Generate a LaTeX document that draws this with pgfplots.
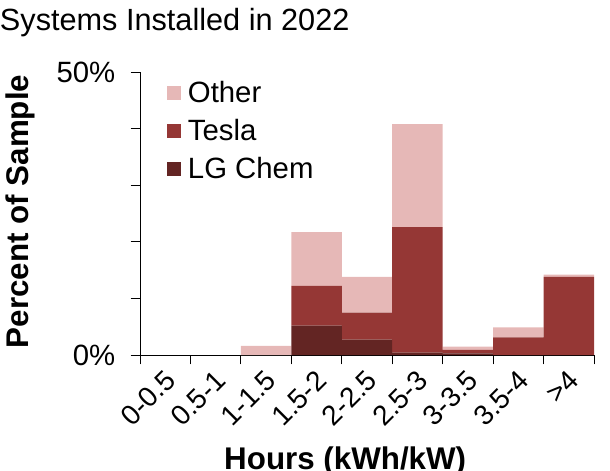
\documentclass[border=0pt]{standalone}
\usepackage{fontspec}
\setmainfont{Liberation Sans}
\usepackage{pgfplots}
\pgfplotsset{compat=1.18}
\definecolor{other}{HTML}{E6B8B7}
\definecolor{tesla}{HTML}{953735}
\definecolor{lgchem}{HTML}{632523}
\pgfplotstableread{
x lg tesla other
0.5 0 0 0
1.5 0 0 0
2.5 0 0 1.6
3.5 5.2 7.0 9.5
4.5 2.7 4.8 6.3
5.5 0.4 22.2 18.2
6.5 0.3 0.6 0.6
7.5 0 3.1 1.8
8.5 0 13.8 0.4
}\datatable
\begin{document}
\begin{tikzpicture}
\begin{axis}[
  scale only axis, width=340.5pt, height=212.25pt,
  xmin=0, xmax=9, ymin=0, ymax=50,
  ybar stacked, bar width=1,
  axis x line*=bottom, axis y line*=left,
  axis line style={black, line width=0.7pt},
  tick style={black, line width=0.7pt},
  tick align=outside, major tick length=7pt,
  xtick={0,1,...,9}, xticklabels={},
  extra x ticks={0.5,1.5,2.5,3.5,4.5,5.5,6.5,7.5,8.5},
  extra x tick labels={0-0.5,0.5-1,1-1.5,1.5-2,2-2.5,2.5-3,3-3.5,3.5-4,>4},
  extra x tick style={major tick length=0pt, xticklabel style={rotate=45, anchor=north east, font=\fontsize{21}{24}\selectfont, xshift=-7pt, yshift=-5pt, inner sep=1pt}},
  ytick={0,10,...,50}, yticklabels={0\%,,,,,50\%},
  yticklabel style={font=\fontsize{22}{26}\selectfont, xshift=-8pt},
  /pgf/number format/assume math mode=true,
  ylabel={\bfseries Percent of Sample},
  ylabel style={font=\fontsize{23.5}{26}\selectfont, at={(rel axis cs:-0.264,0.507)}, anchor=center},
  xlabel={\bfseries Hours (kWh/kW)},
  xlabel style={font=\fontsize{23.5}{26}\selectfont, at={(rel axis cs:0.452,-0.375)}, anchor=center},
  title={Systems Installed in 2022},
  title style={font=\fontsize{23}{26}\selectfont, at={(rel axis cs:-0.309,1.185)}, anchor=west, inner sep=0pt, yshift=-8pt},
  legend style={at={(rel axis cs:0.0595,0.976)}, anchor=north west, draw=none, fill=none, font=\fontsize{22}{26}\selectfont, row sep=7pt, inner sep=0pt,
    /tikz/every odd column/.append style={column sep=3pt}},
  legend cell align=left,
  reverse legend,
  legend image code/.code={\fill[#1] (0pt,-5.25pt) rectangle (10.5pt,5.25pt);},
]
\addplot[fill=lgchem, draw=none] table[x=x, y=lg] {\datatable};
\addlegendentry{LG Chem}
\addplot[fill=tesla, draw=none] table[x=x, y=tesla] {\datatable};
\addlegendentry{Tesla}
\addplot[fill=other, draw=none] table[x=x, y=other] {\datatable};
\addlegendentry{Other}
\coordinate (bl) at (rel axis cs:0,0);
\coordinate (tr) at (rel axis cs:1,1);
\end{axis}
\pgfresetboundingbox
\path ([xshift=-105pt, yshift=-86.25pt]bl) rectangle ([xshift=12pt, yshift=54pt]tr);
\end{tikzpicture}
\end{document}
